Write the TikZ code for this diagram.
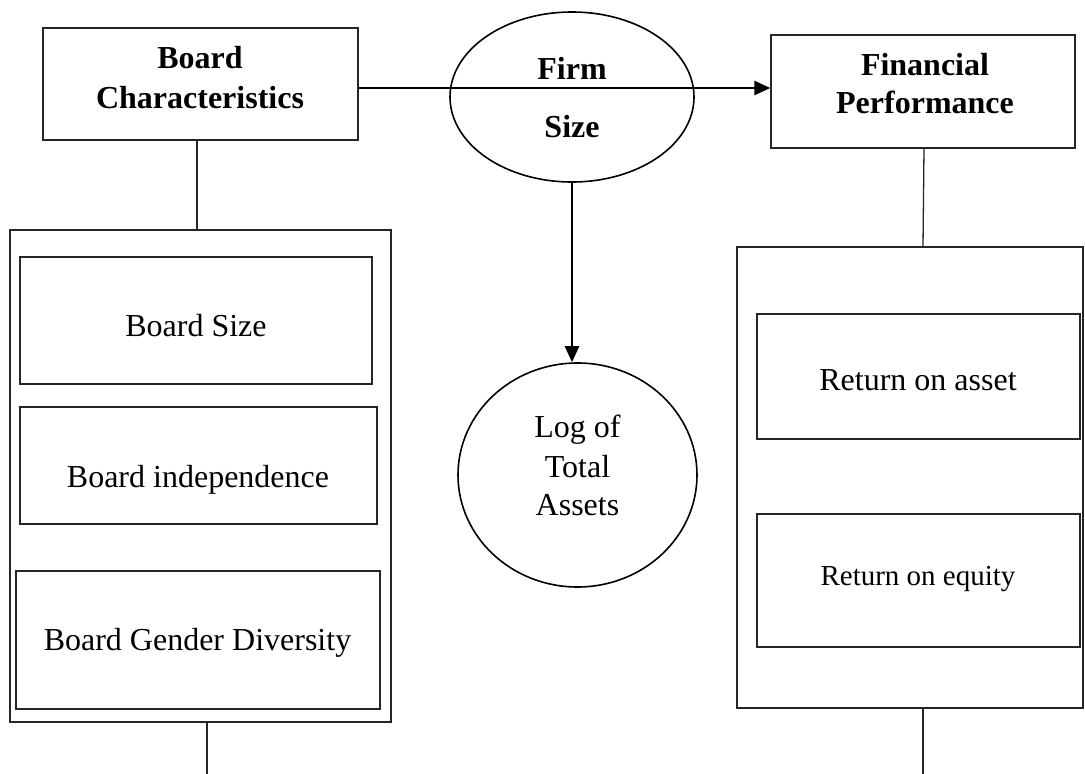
\documentclass[tikz,border=0pt]{standalone}
\usepackage{fontspec}
\setmainfont{Liberation Serif}
\usetikzlibrary{arrows.meta,shapes.geometric}
\begin{document}
\begin{tikzpicture}[x=1pt,y=-1pt,
  frame/.style={draw=black!85,line width=1.3pt,rectangle,inner sep=0pt},
  txt/.style={anchor=base,inner sep=0pt,font=\fontsize{32}{40}\selectfont},
  btxt/.style={txt,font=\fontsize{32}{40}\selectfont\bfseries},
  oval/.style={draw=black,line width=1.6pt,ellipse,inner sep=0pt},
  conn/.style={draw=black!85,line width=1.3pt},
  arr/.style={draw=black,line width=2.4pt,-{Triangle[length=16pt,width=14pt]}}]
\useasboundingbox (0,0) rectangle (1085,774);
% left column
\node[frame,minimum width=315pt,minimum height=112pt] (bc) at (200.5,84) {};
\node[btxt] (bct1) at (200,68) {Board};
\node[btxt] (bct2) at (200,108) {Characteristics};
\node[frame,minimum width=381pt,minimum height=492pt] (lc) at (200.5,476) {};
\node[frame,minimum width=352pt,minimum height=127pt] (bs) at (196,320.5) {};
\node[txt] (bst) at (196,336) {Board Size};
\node[frame,minimum width=357pt,minimum height=117pt] (bi) at (198.5,465.5) {};
\node[txt] (bit) at (198,487) {Board independence};
\node[frame,minimum width=364pt,minimum height=138pt] (bg) at (198,640) {};
\node[txt] (bgt) at (197.5,650) {Board Gender Diversity};
\coordinate (lt) at (197,140);
\coordinate (lb) at (207,774);
\draw[conn] (lt) -- (lt |- lc.north);
\draw[conn] (lc.south -| lb) -- (lb);
% middle
\node[oval,minimum width=244pt,minimum height=170pt] (fs) at (572,97) {};
\node[btxt] (fst1) at (572,79) {Firm};
\node[btxt] (fst2) at (572,137) {Size};
\node[oval,minimum width=239pt,minimum height=224pt] (la) at (577.5,475) {};
\node[txt] (lat1) at (577.5,437) {Log of};
\node[txt] (lat2) at (577.5,477) {Total};
\node[txt] (lat3) at (577.5,515) {Assets};
% right column
\node[frame,minimum width=304pt,minimum height=113pt] (fp) at (923,91.5) {};
\node[btxt] (fpt1) at (925,75) {Financial};
\node[btxt] (fpt2) at (925,113) {Performance};
\node[frame,minimum width=346pt,minimum height=461pt] (rc) at (910,477.5) {};
\node[frame,minimum width=323pt,minimum height=125pt] (ra) at (918.5,376.5) {};
\node[txt] (rat) at (918,390) {Return on asset};
\node[frame,minimum width=323pt,minimum height=133pt] (re) at (918.5,580.5) {};
\node[txt,font=\fontsize{29}{36}\selectfont] (ret) at (918,585) {Return on equity};
\coordinate (rt) at (924,148);
\coordinate (rb) at (923,774);
\draw[conn] (rt) -- (923,247);
\draw[conn] (rc.south -| rb) -- (rb);
% arrows
\coordinate (ha) at (358,88);
\draw[arr] (ha) -- (ha -| fp.west);
\draw[arr] (fs.south) -- (fs.south |- la.north);
\end{tikzpicture}
\end{document}
